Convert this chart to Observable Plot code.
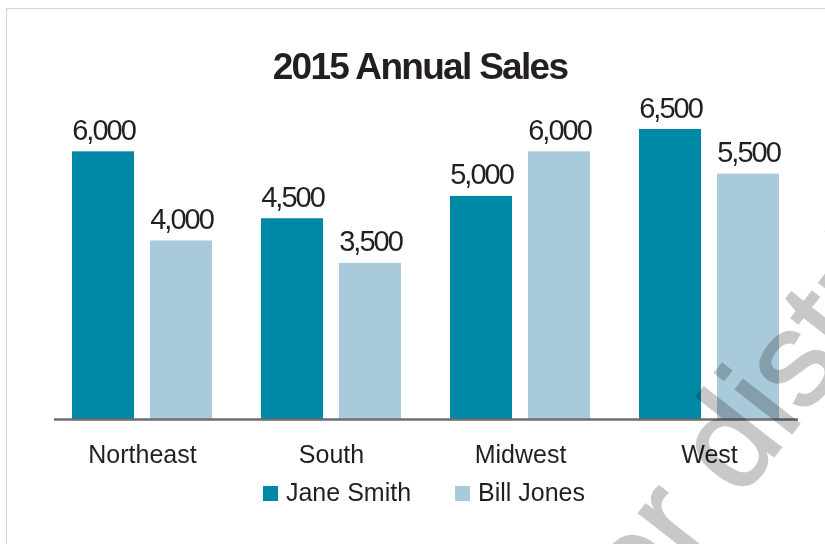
<!DOCTYPE html>
<html>
<head>
<meta charset="utf-8">
<script src="https://cdn.jsdelivr.net/npm/d3@7"></script>
<script src="https://cdn.jsdelivr.net/npm/@observablehq/plot@0.6"></script>
<style>
  html, body { margin: 0; padding: 0; background: #fff; }
  body { width: 825px; height: 544px; overflow: hidden; position: relative; font-family: "Liberation Sans", Arial, sans-serif; color: #231f20; }
  #frame { position: absolute; left: 6px; top: 8px; width: 900px; height: 700px; border: 1px solid #d4d4d4; box-sizing: border-box; }
  #title { position: absolute; left: 0; top: 48px; width: 840px; text-align: center; font-weight: bold; font-size: 37px; line-height: 37px; letter-spacing: -1.7px; }
  #chart { position: absolute; left: 0; top: 80px; }
  #chart g[aria-label="text"] text { letter-spacing: -2px; }
  #legend { position: absolute; left: 0; top: 480px; width: 848px; display: flex; justify-content: center; font-size: 25px; line-height: 25px; }
  .item { display: flex; align-items: baseline; margin: 0 22px; }
  .sw { display: inline-block; width: 15px; height: 15px; margin-right: 8px; }
  #wm { position: absolute; left: 0; top: 0; width: 825px; height: 544px; overflow: hidden; pointer-events: none; mix-blend-mode: multiply; }
  #wm span { position: absolute; white-space: nowrap; font-size: 135px; line-height: 1; color: #c8c8c8; -webkit-text-stroke: 2px #c8c8c8; transform-origin: 0 0; }
</style>
</head>
<body>
<div id="frame"></div>
<div id="title">2015 Annual Sales</div>
<div id="chart"></div>
<div id="legend"></div>
<div id="wm"><span>Not for distribution</span></div>
<script>
const regions = ["Northeast", "South", "Midwest", "West"];
const janeSmith = [6000, 4500, 5000, 6500];
const billJones = [4000, 3500, 6000, 5500];
const seriesNames = ["Jane Smith", "Bill Jones"];
const seriesColors = ["#0089a7", "#a9cadb"];

const jane = regions.map((r, i) => ({region: r, series: seriesNames[0], value: janeSmith[i]}));
const bill = regions.map((r, i) => ({region: r, series: seriesNames[1], value: billJones[i]}));
const fmt = d3.format(",");
const labelFont = "'Liberation Sans', Arial, sans-serif";

const chart = Plot.plot({
  width: 825,
  height: 395,
  marginLeft: 54,
  marginRight: 27,
  marginTop: 49,
  marginBottom: 56,
  style: {color: "#231f20", fontFamily: "'Liberation Sans', Arial, sans-serif", background: "transparent", overflow: "visible"},
  x: {domain: regions, paddingInner: 0.257, paddingOuter: 0.0895, axis: null},
  y: {domain: [0, 6500], axis: null},
  color: {domain: seriesNames, range: seriesColors},
  marks: [
    Plot.barY(jane, {x: "region", y: "value", fill: "series", insetRight: 78}),
    Plot.barY(bill, {x: "region", y: "value", fill: "series", insetLeft: 78}),
    Plot.text(jane, {x: "region", y: "value", text: d => fmt(d.value), dx: -39, dy: -12, lineAnchor: "bottom", fontSize: 29, fontFamily: labelFont, fill: "#231f20"}),
    Plot.text(bill, {x: "region", y: "value", text: d => fmt(d.value), dx: 39, dy: -12, lineAnchor: "bottom", fontSize: 29, fontFamily: labelFont, fill: "#231f20"}),
    Plot.ruleY([0], {stroke: "#6d6e71", strokeWidth: 2.5}),
    Plot.axisX({tickSize: 0, tickPadding: 26, fontSize: 25, label: null})
  ]
});
document.getElementById("chart").appendChild(chart);

const legend = document.getElementById("legend");
seriesNames.forEach((name, i) => {
  const item = document.createElement("div");
  item.className = "item";
  const sw = document.createElement("span");
  sw.className = "sw";
  sw.style.background = seriesColors[i];
  const t = document.createElement("span");
  t.textContent = name;
  item.appendChild(sw);
  item.appendChild(t);
  legend.appendChild(item);
});

// watermark placement (baseline origin, rotated -52deg)
const wm = document.querySelector("#wm span");
const ang = -52 * Math.PI / 180;
const fs = 135;
const ox = 468, oy = 848;
const asc = 0.8465 * fs;
wm.style.left = (ox - asc * Math.sin(-ang)) + "px";
wm.style.top = (oy - asc * Math.cos(ang)) + "px";
wm.style.transform = "rotate(-52deg)";
</script>
</body>
</html>
